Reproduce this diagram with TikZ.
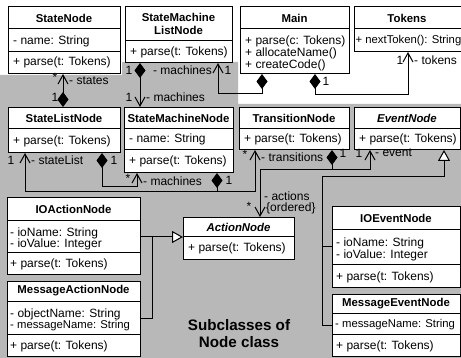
\documentclass[tikz,border=0pt]{standalone}
\usepackage{fontspec}
\setmainfont{Liberation Sans}
\usetikzlibrary{arrows.meta,calc}

\begin{document}
\begin{tikzpicture}[x=1pt,y=-1pt,
  cls/.style={draw=black, line width=1pt, fill=white, anchor=north west, inner sep=0pt},
  ttl/.style={font=\fontsize{11.4}{13.5}\selectfont\bfseries, inner sep=0pt, align=center},
  ittl/.style={font=\fontsize{11.4}{13.5}\selectfont\bfseries\itshape, inner sep=0pt},
  txt/.style={font=\fontsize{12}{12}\selectfont, inner sep=0pt, anchor=west},
  smalltxt/.style={txt, font=\fontsize{11.3}{12}\selectfont},
  lab/.style={font=\fontsize{12}{12}\selectfont, inner sep=0pt},
  big/.style={font=\fontsize{15.2}{17}\selectfont\bfseries, inner sep=0pt, align=center},
  sep/.style={line width=1pt},
  conn/.style={line width=1pt},
  agg/.style={conn, {Diamond[length=15pt,width=11pt]}-{Straight Barb[length=9pt,width=10pt]}},
  aggonly/.style={conn, {Diamond[length=15pt,width=11pt]}-},
  nav/.style={conn, -{Straight Barb[length=9pt,width=10pt]}},
  gen/.style={conn, -{Triangle[open, length=11pt, width=12pt, fill=white]}},
  genrev/.style={conn, {Triangle[open, length=11pt, width=12pt, fill=white]}-},
  backdrop/.style={fill=black!28, draw=none}
]
\useasboundingbox (0,0) rectangle (461,358);
\fill[white] (0,0) rectangle (461,358);
\fill[backdrop] (0,358) -- (0,75) -- (122,75) -- (122,62) -- (238,62)
  -- (238,104) -- (461,104) -- (461,358) -- cycle;

% ---------- class boxes ----------
\node[cls, minimum width=112pt, minimum height=67pt] (sn)   at (8,6) {};
\node[cls, minimum width=107pt, minimum height=56pt] (smln) at (125,6) {};
\node[cls, minimum width=109pt, minimum height=67pt] (main) at (240,6) {};
\node[cls, minimum width=110pt, minimum height=45pt] (tok)  at (354,6) {};
\node[cls, minimum width=112pt, minimum height=45pt] (sln)  at (8,107) {};
\node[cls, minimum width=109pt, minimum height=65pt] (smn)  at (124,107) {};
\node[cls, minimum width=110pt, minimum height=42pt] (trn)  at (239,107) {};
\node[cls, minimum width=106pt, minimum height=42pt] (evn)  at (354,107) {};
\node[cls, minimum width=133pt, minimum height=77pt] (ioa)  at (7,197) {};
\node[cls, minimum width=133pt, minimum height=75pt] (msa)  at (7,281) {};
\node[cls, minimum width=111pt, minimum height=42pt] (act)  at (183,217) {};
\node[cls, minimum width=128pt, minimum height=81pt] (ioe)  at (332,206) {};
\node[cls, minimum width=128pt, minimum height=62pt] (mse)  at (332,294) {};

% ---------- compartment separators ----------
\foreach \b/\y in {sn/29, sn/52, smln/41, main/29, tok/29, sln/129, smn/129, smn/150,
                   trn/129, evn/129, ioa/221, ioa/253, msa/302, msa/335, act/237,
                   ioe/230, ioe/265, mse/314, mse/335}
  \draw[sep] (\b.west |- 0,\y) -- (\b.east |- 0,\y);

% ---------- class texts ----------
\node[ttl] (sn-t) at (64,18) {StateNode};
\node[txt] (sn-a) at (13,41) {- name: String};
\node[txt] (sn-o) at (13,62) {+ parse(t: Tokens)};

\node[ttl] (smln-t) at (178.5,24) {StateMachine\\ListNode};
\node[txt] (smln-o) at (130,52) {+ parse(t: Tokens)};

\node[ttl] (main-t) at (294.5,18) {Main};
\node[txt] (main-o1) at (245,41) {+ parse(c: Tokens)};
\node[txt] (main-o2) at (245,53) {+ allocateName()};
\node[txt] (main-o3) at (245,65) {+ createCode()};

\node[ttl] (tok-t) at (407,18) {Tokens};
\node[smalltxt] (tok-o) at (355.5,41) {+ nextToken(): String};

\node[ttl] (sln-t) at (64,118) {StateListNode};
\node[txt] (sln-o) at (13,141) {+ parse(t: Tokens)};

\node[ttl] (smn-t) at (178.5,118) {StateMachineNode};
\node[txt] (smn-a) at (129,139) {- name: String};
\node[txt] (smn-o) at (129,161) {+ parse(t: Tokens)};

\node[ttl] (trn-t) at (294,118) {TransitionNode};
\node[txt] (trn-o) at (244,139) {+ parse(t: Tokens)};

\node[ittl] (evn-t) at (407,118) {EventNode};
\node[txt] (evn-o) at (359,139) {+ parse(t: Tokens)};

\node[ttl] (ioa-t) at (73.5,209) {IOActionNode};
\node[txt] (ioa-a1) at (10,233) {- ioName: String};
\node[txt] (ioa-a2) at (10,244.5) {- ioValue: Integer};
\node[txt] (ioa-o) at (10,264) {+ parse(t: Tokens)};

\node[ttl] (msa-t) at (73.5,291) {MessageActionNode};
\node[txt] (msa-a1) at (10,314) {- objectName: String};
\node[smalltxt] (msa-a2) at (10,326) {- messageName: String};
\node[txt] (msa-o) at (10,346) {+ parse(t: Tokens)};

\node[ittl] (act-t) at (238.5,227) {ActionNode};
\node[txt] (act-o) at (188,248) {+ parse(t: Tokens)};

\node[ttl] (ioe-t) at (396,218) {IOEventNode};
\node[txt] (ioe-a1) at (336,243) {- ioName: String};
\node[txt] (ioe-a2) at (336,255) {- ioValue: Integer};
\node[txt] (ioe-o) at (336,277) {+ parse(t: Tokens)};

\node[ttl] (mse-t) at (396,304) {MessageEventNode};
\node[smalltxt] (mse-a) at (335,325) {- messageName: String};
\node[txt] (mse-o) at (336,346) {+ parse(t: Tokens)};

\node[big] (caption) at (239,334) {Subclasses of\\Node class};

% ---------- associations ----------
% StateListNode <>-- StateNode
\draw[agg] (sln.north -| 63,0) -- (sn.south -| 63,0);
\node[lab] (l-st1) at (55,77) {*};
\node[lab, anchor=west] (l-st2) at (69,81) {- states};
\node[lab] (l-st3) at (55,97) {1};

% StateMachineListNode <>-- StateMachineNode
\draw[agg] (smln.south -| 140,0) -- (smn.north -| 140,0);
\node[lab] (l-m1) at (129,70) {1};
\node[lab] (l-m2) at (129,97) {1};
\node[lab, anchor=west] (l-m3) at (146,97) {- machines};

% Main <>-- StateMachineListNode
\draw[agg] (main.south -| 262,0) |- (218,94) -- (smln.south -| 218,0);
\node[lab, anchor=east] (l-mm1) at (212,70) {- machines};
\node[lab] (l-mm2) at (228,70) {1};

% Main <>-- Tokens
\draw[agg] (main.south -| 315,0) |- (408,95) -- (tok.south -| 408,0);
\node[lab] (l-t1) at (326,81) {1};
\node[lab] (l-t2) at (400,60) {1};
\node[lab, anchor=west] (l-t3) at (414,60) {- tokens};

% StateListNode <>-- StateMachineNode
\draw[agg] (sln.south -| 102,0) |- (137,187) -- (smn.south -| 137,0);
\node[lab] (l-sm1) at (114,160) {1};
\node[lab] (l-sm2) at (128,178) {*};
\node[lab, anchor=west] (l-sm3) at (143,181) {- machines};

% StateMachineNode <>-- StateListNode / TransitionNode
\coordinate (smjoin) at (217,192);
\draw[aggonly] (smn.south -| smjoin) -- (smjoin);
\draw[nav] (smjoin) -| (sln.south -| 25,0);
\draw[nav] (smjoin) -| (trn.south -| 255,0);
\node[lab] (l-sl0) at (229,180) {1};
\node[lab] (l-sl1) at (11,160) {1};
\node[lab, anchor=west] (l-sl2) at (31,160) {- stateList};
\node[lab] (l-tr1) at (245,154) {*};
\node[lab, anchor=west] (l-tr2) at (261,157) {- transitions};

% TransitionNode <>-- ActionNode / EventNode
\coordinate (trjoin) at (332,170);
\draw[aggonly] (trn.south -| trjoin) -- (trjoin);
\draw[nav] (trjoin) -| (act.north -| 260,0);
\draw[nav] (trjoin) -| (evn.south -| 370,0);
\node[lab] (l-tj) at (343,153) {1};
\node[lab] (l-ev1) at (359,153) {1};
\node[lab, anchor=west] (l-ev2) at (375,153) {- event};
\node[lab] (l-ac1) at (249,206) {*};
\node[lab, anchor=west] (l-ac2) at (264,196) {- actions};
\node[lab, anchor=west] (l-ac3) at (266,208) {\{ordered\}};

% ---------- generalizations ----------
\coordinate (ajoin) at (152,237);
\draw[gen] (ioa.east |- ajoin) -- (act.west |- ajoin);
\draw[conn] (msa.east) -| (ajoin);

\coordinate (ejoin) at (322,177);
\draw[genrev] (evn.south -| 444,0) |- (ejoin) |- (mse.west);
\draw[conn] (ioe.west) -- (ioe.west -| ejoin);

\end{tikzpicture}
\end{document}
